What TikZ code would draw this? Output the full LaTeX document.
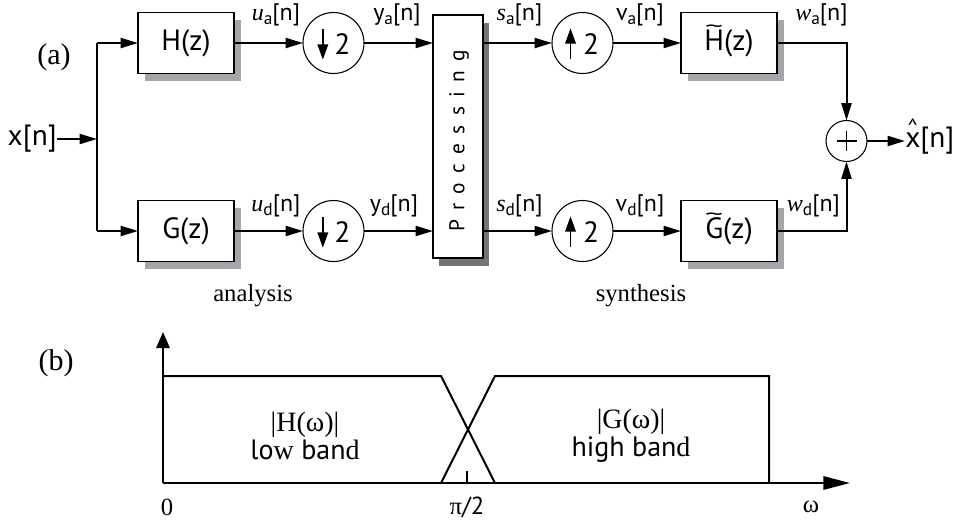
\documentclass[tikz,border=0pt]{standalone}
\usepackage{fontspec}
\setmainfont{Liberation Serif}
\setsansfont{PT Sans}
\usetikzlibrary{arrows.meta,shadows}
\definecolor{shadowlight}{RGB}{165,165,170}
\definecolor{shadowdark}{RGB}{115,115,120}
\newcommand{\bigsf}{\sffamily\fontsize{22}{26}\selectfont}
\newcommand{\labsf}{\sffamily\fontsize{18}{20}\selectfont}
\newcommand{\sigsub}[1]{\raisebox{-0.35ex}{\fontsize{13}{14}\selectfont #1}}
\newcommand{\itvar}[1]{{\rmfamily\itshape #1}}
\newcommand{\sig}[2]{#1\sigsub{#2}[n]}
\newcommand{\lsp}{\hspace{7pt}}
\newcommand{\tildeon}[1]{{\ooalign{#1\cr\hidewidth\raisebox{0.58em}{\scalebox{1.25}[0.7]{\textasciitilde}}\hidewidth\cr}}}
\newcommand{\haton}[1]{{\ooalign{#1\cr\hidewidth\raisebox{0.42em}{\scalebox{0.75}[0.8]{\textasciicircum}}\hidewidth\cr}}}
\begin{document}
\begin{tikzpicture}[x=0.75pt,y=-0.75pt,
  block/.style={draw, line width=0.8pt, fill=white, minimum width=72pt, minimum height=45.75pt,
    inner sep=0, outer sep=0, font=\bigsf,
    drop shadow={shadow xshift=5.5pt, shadow yshift=-5.5pt, fill=shadowlight, opacity=1}},
  samp/.style={draw, circle, line width=0.8pt, minimum size=45.75pt, inner sep=0, outer sep=0, fill=white},
  adder/.style={draw, circle, line width=0.8pt, minimum size=30.75pt, inner sep=0, outer sep=0},
  conn/.style={line width=1.5pt, -{Triangle[length=13pt,width=7.5pt]}},
  wire/.style={line width=1.5pt},
  inarrow/.style={line width=1.1pt, -{Triangle[length=11.5pt,width=8pt]}},
  lab/.style={font=\labsf, inner sep=0},
  txt/.style={font=\bigsf, inner sep=0},
  serif/.style={font=\rmfamily\fontsize{18.5}{22}\selectfont, inner sep=0},
  part/.style={font=\rmfamily\fontsize{22.5}{26}\selectfont, inner sep=0},
  band/.style={font=\fontsize{21}{24}\selectfont, inner sep=0, align=center},
  curve/.style={line width=1.5pt, line join=miter}
]
\useasboundingbox (0,0) rectangle (954,519);

% --- part (a) ---
\node[part] (la) at (54,57) {(a)};
\node[txt, anchor=east] (x) at (57,139) {x[n]};
\coordinate (bm) at (97,139);
\coordinate (bt) at (97,43);
\coordinate (bb) at (97,231);

\node[block] (H) at (186,43) {H(z)};
\node[block] (G) at (186,231) {G(z)};
\node[samp] (D1) at (333.5,43) {};
\node[samp] (D2) at (333.5,231) {};

\node[draw, line width=1.6pt, fill=white, minimum width=37.5pt, minimum height=182.25pt,
  inner sep=0, outer sep=0,
  drop shadow={shadow xshift=4.8pt, shadow yshift=-6.2pt, fill=shadowdark, opacity=1}] (P) at (458,136.5) {};
\node[rotate=90, inner sep=0, font=\sffamily\fontsize{16}{18}\selectfont] (Ptext) at (459,141)
  {P\lsp r\lsp o\lsp c\lsp e\lsp s\lsp s\lsp i\lsp n\lsp g};

\node[samp] (U1) at (582.5,43) {};
\node[samp] (U2) at (582.5,231) {};
\node[block] (Ht) at (729,43) {\tildeon{H}(z)};
\node[block] (Gt) at (729,231) {\tildeon{G}(z)};
\node[adder] (A) at (846.5,141) {};
\node[txt, anchor=west] (xh) at (905,141) {\haton{x}[n]};

% down / up sampler contents
\foreach \c in {D1,D2}{
  \draw[inarrow] ([xshift=-8pt,yshift=10.5pt]\c.center) -- ([xshift=-8pt,yshift=-12.5pt]\c.center);
  \node[txt] at ([xshift=6.6pt,yshift=-0.5pt]\c.center) {2};
}
\foreach \c in {U1,U2}{
  \draw[inarrow] ([xshift=-9pt,yshift=-12pt]\c.center) -- ([xshift=-9pt,yshift=11pt]\c.center);
  \node[txt] at ([xshift=6.4pt,yshift=-0.5pt]\c.center) {2};
}
% adder plus
\draw[line width=0.9pt] ([xshift=-7.5pt]A.center) -- ([xshift=7.5pt]A.center);
\draw[line width=0.9pt] ([yshift=-7.5pt]A.center) -- ([yshift=7.5pt]A.center);

% connectors
\draw[conn] (x.east) -- (bm);
\draw[wire] (bt) -- (bb);
\draw[conn] (bt) -- (H.west);
\draw[conn] (bb) -- (G.west);
\draw[conn] (H.east) -- (D1.west);
\draw[conn] (G.east) -- (D2.west);
\draw[conn] (D1.east) -- (D1 -| P.west);
\draw[conn] (D2.east) -- (D2 -| P.west);
\draw[conn] (U1 -| P.east) -- (U1.west);
\draw[conn] (U2 -| P.east) -- (U2.west);
\draw[conn] (U1.east) -- (Ht.west);
\draw[conn] (U2.east) -- (Gt.west);
\draw[conn] (Ht.east) -- (Ht -| A) -- (A.north);
\draw[conn] (Gt.east) -- (Gt -| A) -- (A.south);
\draw[conn] (A.east) -- (xh.west);

% signal labels
\node[lab] (lua) at (276,15) {\sig{\itvar{u}}{a}};
\node[lab] (lya) at (397,15) {\sig{y}{a}};
\node[lab] (lsa) at (519.5,15) {\sig{\itvar{s}}{a}};
\node[lab] (lva) at (640,15) {\sig{v}{a}};
\node[lab] (lwa) at (821.5,15) {\sig{\itvar{w}}{a}};
\node[lab] (lud) at (276,206) {\sig{\itvar{u}}{d}};
\node[lab] (lyd) at (394,206) {\sig{y}{d}};
\node[lab] (lsd) at (519.5,206) {\sig{\itvar{s}}{d}};
\node[lab] (lvd) at (640,206) {\sig{v}{d}};
\node[lab] (lwd) at (813.5,206) {\sig{\itvar{w}}{d}};

\node[serif] (an) at (253,296) {analysis};
\node[serif] (sy) at (641,296) {synthesis};

% --- part (b) ---
\node[part] (lb) at (56,363) {(b)};
\coordinate (O) at (163,483);
\coordinate (xend) at (850,483);
\coordinate (yend) at (163,332);
\draw[line width=1.5pt, -{Triangle[length=20pt,width=10pt]}] (O) -- (xend);
\draw[line width=1.5pt, -{Triangle[length=12pt,width=10pt]}] (O) -- (yend);
\draw[curve] (163,376) -- (441,376) -- (495,483);
\draw[curve] (441,483) -- (495,376) -- (769,376) -- (769,483);
\draw[line width=1.5pt] (467,483) -- (467,471);

\node[band] (hb) at (305,436) {\rmfamily |H(ω)|\\[-3pt]\sffamily lo{\rmfamily w} ban{\rmfamily d}};
\node[band] (gb) at (631,436) {\rmfamily |G(ω)|\\[-3pt]\sffamily high ban{\rmfamily d}};
\node[serif] (l0) at (167,507) {0};
\node[serif] (lpi) at (467,507) {π\sffamily /2};
\node[serif] (lw) at (811,507) {ω};
\end{tikzpicture}
\end{document}
